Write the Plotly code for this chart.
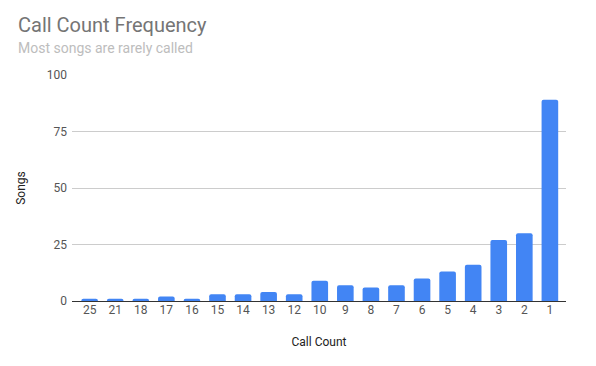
import plotly.graph_objects as go

call_counts = ["25", "21", "18", "17", "16", "15", "14", "13", "12", "10",
               "9", "8", "7", "6", "5", "4", "3", "2", "1"]
songs = [1, 1, 1, 2, 1, 3, 3, 4, 3, 9, 7, 6, 7, 10, 13, 16, 27, 30, 89]
y_ticks = [0, 25, 50, 75, 100]

# page body has an 8px margin, so the figure is sized to fit inside it
W, H = 588, 358
l, r, t, b = 64, 30, 67, 65

fig = go.Figure(go.Bar(
    x=call_counts, y=songs,
    marker=dict(color="#4285f4", cornerradius=2, line=dict(width=0)),
    width=0.65,
))

fig.update_layout(
    width=W, height=H,
    margin=dict(l=l, r=r, t=t, b=b),
    paper_bgcolor="white", plot_bgcolor="white",
    font=dict(family="Roboto", size=12, color="#444444"),
    showlegend=False,
    xaxis=dict(
        type="category", range=[-0.69, 18.63],
        tickfont=dict(size=12, color="#555555"),
        showgrid=False, ticks="", showline=False, zeroline=False,
        title=dict(text="Call Count", font=dict(size=12, color="#222222"), standoff=21),
    ),
    yaxis=dict(
        range=[0, 100], tickvals=y_ticks, ticktext=[str(v) for v in y_ticks],
        tickfont=dict(size=12, color="#555555"),
        showgrid=True, gridcolor="#cccccc", gridwidth=1,
        zeroline=True, zerolinecolor="#333333", zerolinewidth=1,
        showline=False, ticks="", ticklabelstandoff=4,
        title=dict(text="Songs", font=dict(size=12, color="#222222"), standoff=18),
    ),
)

pw, ph = W - l - r, H - t - b
def px(x):
    return (x - l) / pw
def py(y):
    return (H - b - y) / ph

fig.add_annotation(text="Call Count Frequency", x=px(8), y=py(17), xref="paper", yref="paper",
                   xanchor="left", yanchor="middle", showarrow=False,
                   font=dict(family="Roboto", size=20, color="#757575"))
fig.add_annotation(text="Most songs are rarely called", x=px(8), y=py(40), xref="paper", yref="paper",
                   xanchor="left", yanchor="middle", showarrow=False,
                   font=dict(family="Roboto", size=14, color="#bdbdbd"))

fig.write_html("out.html")
